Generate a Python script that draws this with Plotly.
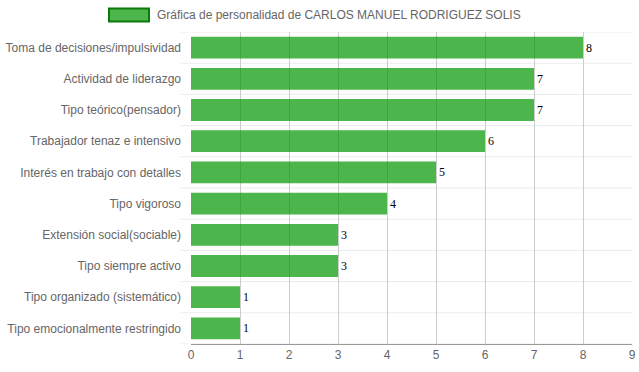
import plotly.graph_objects as go

categories = [
    "Toma de decisiones/impulsividad",
    "Actividad de liderazgo",
    "Tipo teórico(pensador)",
    "Trabajador tenaz e intensivo",
    "Interés en trabajo con detalles",
    "Tipo vigoroso",
    "Extensión social(sociable)",
    "Tipo siempre activo",
    "Tipo organizado (sistemático)",
    "Tipo emocionalmente restringido",
]
values = [8, 7, 7, 6, 5, 4, 3, 3, 1, 1]
x_ticks = [0, 1, 2, 3, 4, 5, 6, 7, 8, 9]
series_name = "Gráfica de personalidad de CARLOS MANUEL RODRIGUEZ SOLIS"

fig = go.Figure()
fig.add_trace(go.Bar(
    y=categories, x=values, orientation="h",
    marker=dict(color="rgba(0,150,0,0.7)", line=dict(width=0)),
    text=[str(v) for v in values], textposition="outside",
    textfont=dict(family="Liberation Serif, Times New Roman, serif", size=12, color="#000"),
    cliponaxis=False, showlegend=False, width=0.7, hoverinfo="skip",
))

shapes = []
for i in range(len(categories) + 1):
    shapes.append(dict(type="line", xref="paper", yref="y", x0=-0.024, x1=1,
                       y0=i - 0.5, y1=i - 0.5, line=dict(color="#EBEBEB", width=1), layer="below"))
# legend box
shapes.append(dict(type="rect", xref="paper", yref="paper",
                   x0=(109 - 191) / 441, x1=(149 - 191) / 441,
                   y0=(372 - 28 - 21) / 312.5, y1=(372 - 28 - 8) / 312.5,
                   fillcolor="rgba(0,150,0,0.7)", line=dict(color="#0A7A0A", width=2)))

fig.update_layout(
    width=639, height=372,
    margin=dict(l=191, r=7, t=31.5, b=28),
    paper_bgcolor="white", plot_bgcolor="white",
    font=dict(family="Liberation Sans, Arial, sans-serif", size=12, color="#666"),
    shapes=shapes,
    annotations=[dict(text=series_name, xref="paper", yref="paper",
                      x=(155 - 191) / 441, y=(372 - 28 - 14.5) / 312.5,
                      xanchor="left", yanchor="middle", showarrow=False,
                      font=dict(size=12, color="#666"))],
    xaxis=dict(range=[0, 9.0001], tickvals=x_ticks, showgrid=True, gridcolor="#CCCCCC",
               gridwidth=1, zeroline=False, showline=True, linecolor="#999", linewidth=1,
               ticks="", automargin=False, tickfont=dict(size=12, color="#666")),
    yaxis=dict(categoryorder="array", categoryarray=categories,
               showgrid=False, zeroline=False, showline=False,
               ticks="", ticklabelstandoff=9, automargin=False,
               tickfont=dict(size=12, color="#666"),
               range=[len(categories) - 0.5, -0.5]),
)
fig.write_html("out.html", config={"displayModeBar": False},
               post_script="document.body.style.margin='0';")
